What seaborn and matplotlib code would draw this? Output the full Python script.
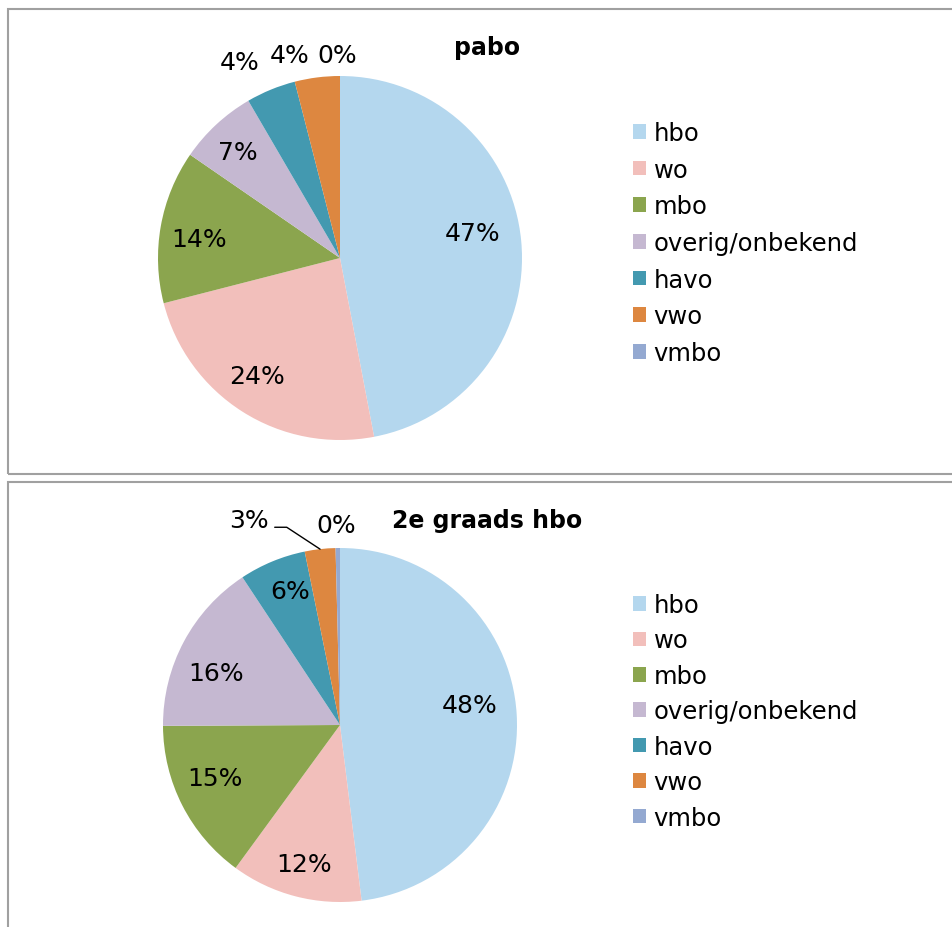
import numpy as np
import matplotlib
matplotlib.use("Agg")
import matplotlib.pyplot as plt
import matplotlib.patches as mpatches
import seaborn as sns

# ---------------- data ----------------
categories = ["hbo", "wo", "mbo", "overig/onbekend", "havo", "vwo", "vmbo"]
pabo_values = [47.0, 24.0, 13.6, 7.0, 4.4, 4.0, 0.0]
hbo2_values = [48.1, 12.0, 14.9, 15.8, 6.1, 2.8, 0.4]
titles = ["pabo", "2e graads hbo"]
colors_hex = ["#B4D7EE", "#F2BFBB", "#8BA54E", "#C5B8D1", "#4399B0", "#DD8740", "#94A9D1"]

# ---------------- layout (pixels) ----------------
W, H = 953, 928
sns.set_theme(style="white")
plt.rcParams["font.family"] = ["DejaVu Sans"]
plt.rcParams["text.color"] = "black"
palette = sns.color_palette(colors_hex)

fig = plt.figure(figsize=(W / 100, H / 100), dpi=100)
fig.patch.set_facecolor("white")

def fx(x):
    return x / W

def fy(y):
    return 1 - y / H

# frames
for (l, t, r, b) in [(8, 10, 970, 475), (8, 483, 970, 945)]:
    fig.patches.append(mpatches.Rectangle((fx(l), fy(b)), fx(r) - fx(l), fy(t) - fy(b),
                                          transform=fig.transFigure, fill=False,
                                          edgecolor="#A0A0A0", linewidth=1.5, zorder=0))

# per-label placement: (distance, angle shift in degrees, clockwise from top)
label_layout = [
    [(0.74, -5.3), (0.79, 2.7), (0.78, -2.3), (0.81, -1.0), (1.21, -4.7), (1.15, -6.6), (1.115, -0.8)],
    [(0.74, -5.3), (0.81, -0.2), (0.77, 4.0), (0.76, -5.6), (0.81, 2.0), (1.27, -17.5), (1.13, -0.4)],
]
pies = [
    dict(values=pabo_values, cx=340, cy=259, R=182, title_y=55, legend_y=122, spacing=0.52),
    dict(values=hbo2_values, cx=340, cy=726, R=177, title_y=528, legend_y=594, spacing=0.47),
]

lim = 1.35
for i, p in enumerate(pies):
    R = p["R"]
    size = 2 * lim * R
    ax = fig.add_axes([fx(p["cx"] - lim * R), fy(p["cy"] + lim * R), size / W, size / H])
    vals = np.array(p["values"])
    wedges, _ = ax.pie(vals, colors=palette, startangle=90, counterclock=False,
                       radius=1.0, wedgeprops=dict(linewidth=0))
    ax.set_xlim(-lim, lim)
    ax.set_ylim(-lim, lim)
    ax.set_aspect("equal")
    ax.axis("off")
    total = vals.sum()
    cum = np.cumsum(vals) - vals / 2
    for j, v in enumerate(vals):
        mid = cum[j] / total * 360.0
        d, sh = label_layout[i][j]
        a = np.deg2rad(mid + sh)
        x, y = d * np.sin(a), d * np.cos(a)
        ax.text(x, y, f"{round(v / total * 100):.0f}%", ha="center", va="center",
                fontsize=18, color="black", clip_on=False)
        if i == 1 and j == 5:
            # leader line for small slice
            ex, ey = np.sin(np.deg2rad(mid)), np.cos(np.deg2rad(mid))
            ab = np.deg2rad(mid - 8.6)
            bx, by = 1.157 * np.sin(ab), 1.157 * np.cos(ab)
            ax.plot([bx - 0.068, bx, ex], [by, by, ey], color="black", lw=1.0, clip_on=False)
    fig.text(fx(487), fy(p["title_y"]), titles[i], ha="center", va="baseline",
             fontsize=17, fontweight="bold", color="black")
    ax.legend(wedges, categories, loc="upper left",
              bbox_to_anchor=(fx(633), fy(p["legend_y"])), bbox_transform=fig.transFigure,
              frameon=False, fontsize=17.5, handlelength=0.55, handleheight=0.55,
              handletextpad=0.3, labelspacing=p["spacing"], borderpad=0, borderaxespad=0,
              labelcolor="black")

fig.savefig("out.png", dpi=100, facecolor="white")
